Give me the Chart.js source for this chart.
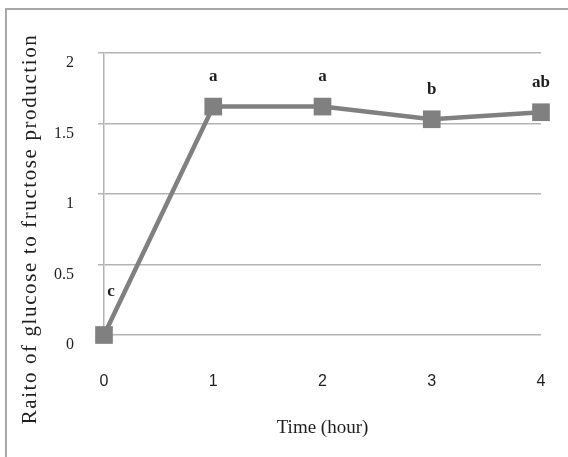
<!DOCTYPE html>
<html>
<head>
<meta charset="utf-8">
<script src="https://cdn.jsdelivr.net/npm/chart.js@4/dist/chart.umd.min.js"></script>
<style>
    html, body { margin: 0; padding: 0; background: #ffffff; }
    #wrap { position: relative; width: 568px; height: 457px; }
</style>
</head>
<body>
<div id="wrap"><canvas id="myChart" width="568" height="457"></canvas></div>
<script>
// data
const hours = ['0', '1', '2', '3', '4'];
const ratio = [0, 1.62, 1.62, 1.53, 1.58];
const letters = ['c', 'a', 'a', 'b', 'ab'];
const yTicks = [0, 0.5, 1, 1.5, 2];

const gridColor = '#b4b4b4';
const lineColor = '#808080';
const textColor = '#1e1e1e';

// outer frame + rotated y title (drawn by hand, the library centres it on the plot only)
const framePlugin = {
    id: 'frame',
    beforeDraw(chart) {
        const c = chart.ctx;
        c.save();
        c.strokeStyle = '#a8a8a8';
        c.lineWidth = 2;
        c.beginPath();
        c.moveTo(6, 457);
        c.lineTo(6, 9);
        c.lineTo(568, 9);
        c.stroke();
        c.restore();
    },
    afterDraw(chart) {
        const c = chart.ctx;
        c.save();
        c.translate(30, 229);
        c.rotate(-Math.PI / 2);
        c.font = '21px "Liberation Serif", "Times New Roman", serif';
        c.letterSpacing = '1.6px';
        c.fillStyle = textColor;
        c.textAlign = 'center';
        c.textBaseline = 'middle';
        c.fillText('Raito of glucose to fructose production', 0, 0);
        c.restore();
    }
};

// significance letters above each point
const lettersPlugin = {
    id: 'letters',
    afterDatasetsDraw(chart) {
        const c = chart.ctx;
        const pts = chart.getDatasetMeta(0).data;
        c.save();
        c.font = 'bold 17px "Liberation Serif", "Times New Roman", serif';
        c.fillStyle = textColor;
        c.textAlign = 'center';
        c.textBaseline = 'middle';
        pts.forEach(function (p, i) {
            const dx = i === 0 ? 7 : 0;
            const dy = i === 0 ? -43 : -30;
            c.fillText(letters[i], p.x + dx, p.y + dy);
        });
        c.restore();
    }
};

const ctx = document.getElementById('myChart').getContext('2d');
const myChart = new Chart(ctx, {
    type: 'line',
    data: {
        labels: hours,
        datasets: [{
            data: ratio,
            borderColor: lineColor,
            borderWidth: 4.5,
            backgroundColor: lineColor,
            pointStyle: 'rect',
            pointRadius: 12.5,
            pointBorderWidth: 0,
            tension: 0,
            clip: false
        }]
    },
    options: {
        responsive: false,
        animation: false,
        layout: {
            padding: { top: 53, right: 27, left: 0, bottom: 0 }
        },
        scales: {
            x: {
                offset: false,
                grid: { display: false, drawTicks: false },
                border: { display: false },
                ticks: {
                    color: textColor,
                    padding: 37,
                    maxRotation: 0,
                    font: { family: '"Liberation Sans", Arial, sans-serif', size: 16 }
                },
                title: {
                    display: true,
                    text: 'Time (hour)',
                    color: textColor,
                    padding: { top: 0, bottom: 18 },
                    font: { family: '"Liberation Serif", "Times New Roman", serif', size: 19 }
                },
                afterFit: function (scale) {
                    scale.height = 122;
                    scale.paddingLeft = 0;
                    scale.paddingRight = 0;
                }
            },
            y: {
                min: 0,
                max: 2,
                afterBuildTicks: function (scale) {
                    scale.ticks = yTicks.map(function (v) { return { value: v }; });
                },
                grid: { color: gridColor, lineWidth: 1.5, tickLength: 6 },
                border: { display: true, color: gridColor, width: 1.5 },
                ticks: {
                    color: textColor,
                    padding: 24,
                    labelOffset: 10,
                    font: { family: '"Liberation Serif", "Times New Roman", serif', size: 16 },
                    callback: function (val) { return String(val); }
                },
                afterFit: function (scale) { scale.width = 104; }
            }
        },
        plugins: {
            legend: { display: false },
            title: { display: false },
            tooltip: { enabled: false }
        }
    },
    plugins: [framePlugin, lettersPlugin]
});
</script>
</body>
</html>
